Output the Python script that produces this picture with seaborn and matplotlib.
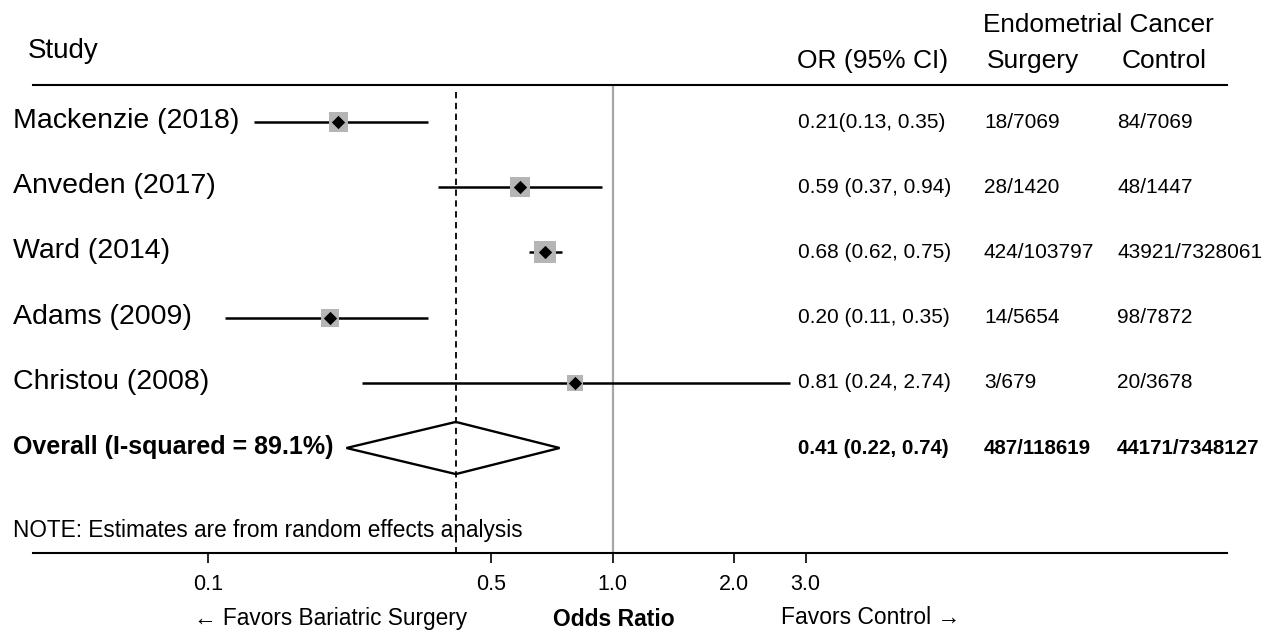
import numpy as np
import pandas as pd
import matplotlib
matplotlib.use("Agg")
import matplotlib.pyplot as plt
import seaborn as sns
from matplotlib.ticker import NullLocator

# study level data
studies = ["Mackenzie (2018)", "Anveden (2017)", "Ward (2014)", "Adams (2009)", "Christou (2008)"]
or_est = [0.21, 0.59, 0.68, 0.20, 0.81]
ci_low = [0.13, 0.37, 0.62, 0.11, 0.24]
ci_high = [0.35, 0.94, 0.75, 0.35, 2.74]
weights = [19.8, 21.9, 26.5, 17.8, 14.0]
or_labels = ["0.21(0.13, 0.35)", "0.59 (0.37, 0.94)", "0.68 (0.62, 0.75)",
             "0.20 (0.11, 0.35)", "0.81 (0.24, 2.74)"]
surgery = ["18/7069", "28/1420", "424/103797", "14/5654", "3/679"]
control = ["84/7069", "48/1447", "43921/7328061", "98/7872", "20/3678"]

# pooled estimate
overall_label = "Overall (I-squared = 89.1%)"
overall_or = 0.41
overall_low = 0.22
overall_high = 0.74
overall_text = "0.41 (0.22, 0.74)"
overall_surgery = "487/118619"
overall_control = "44171/7348127"

tick_vals = [0.1, 0.5, 1.0, 2.0, 3.0]
tick_labels = ["0.1", "0.5", "1.0", "2.0", "3.0"]

sns.set_style("white")
plt.rcParams['font.family'] = ['Liberation Sans', 'DejaVu Sans']
plt.rcParams['text.color'] = 'black'
plt.rcParams['xtick.color'] = 'black'
plt.rcParams['xtick.labelcolor'] = 'black'

W, H = 1267, 633
fig = plt.figure(figsize=(W / 100, H / 100), dpi=100)
ax = fig.add_axes([33 / W, 1 - 553 / H, (1227 - 33) / W, (553 - 85) / H])

row0, row_step = 122, 65.2  # pixel row layout


def row_px(i):
    return row0 + row_step * i


df = pd.DataFrame({"study": studies, "or": or_est, "lo": ci_low, "hi": ci_high,
                   "weight": weights, "row": np.arange(len(studies))})

# confidence intervals
ax.hlines(df["row"], df["lo"], df["hi"], color="black", lw=1.8, zorder=2)
# weight boxes
sns.scatterplot(data=df, x="or", y="row", size="weight", sizes=(133, 251), marker="s",
                color="#b5b5b5", linewidth=0, legend=False, ax=ax, zorder=3)
# point estimates
sns.scatterplot(data=df, x="or", y="row", marker="D", s=46, color="black",
                linewidth=0, legend=False, ax=ax, zorder=4)

# overall diamond
r = len(studies)
ax.fill([overall_low, overall_or, overall_high, overall_or], [r, r - 0.4, r, r + 0.4],
        fill=False, edgecolor="black", lw=1.7, zorder=3)

# reference lines
ax.axvline(1.0, color="#a6a6a6", lw=1.6, zorder=1)
y_lo = (553 - row0) / row_step
y_hi = (85 - row0) / row_step
ax.vlines(overall_or, (92 - row0) / row_step, y_lo, color="black", lw=1.3,
          linestyles=(0, (3.5, 2.5)), zorder=2)

ax.set_xscale("log")
ax.set_xlim(10 ** (-1 - (208 - 33) / 405), 10 ** ((1227 - 612) / 405))
ax.set_ylim(y_lo, y_hi)
ax.set_xticks(tick_vals)
ax.set_xticklabels(tick_labels)
ax.xaxis.set_minor_locator(NullLocator())
ax.set_yticks([])
ax.set_xlabel("")
ax.set_ylabel("")
ax.tick_params(axis="x", direction="out", length=7, width=1.2, pad=8,
               labelsize=15.5, color="black", bottom=True, top=False)
for side in ["left", "right"]:
    ax.spines[side].set_visible(False)
for side in ["top", "bottom"]:
    ax.spines[side].set_color("black")
    ax.spines[side].set_linewidth(1.5)
ax.patch.set_alpha(0)


def put(x, y, s, **kw):
    fig.text(x / W, 1 - y / H, s, va="center", color="black", **kw)


# header
put(28, 51, "Study", fontsize=20)
put(983, 25, "Endometrial Cancer", fontsize=18.8)
put(797, 61, "OR (95% CI)", fontsize=19)
put(987, 61, "Surgery", fontsize=19)
put(1122, 61, "Control", fontsize=19)

# rows
for i in range(len(studies)):
    y = row_px(i)
    put(13, y - 1, studies[i], fontsize=20.5)
    put(798, y, or_labels[i], fontsize=15)
    put(984, y, surgery[i], fontsize=15)
    put(1117, y, control[i], fontsize=15)

y = row_px(r)
put(13, y - 1, overall_label, fontsize=18, fontweight="bold")
put(798, y, overall_text, fontsize=14.8, fontweight="bold")
put(984, y, overall_surgery, fontsize=14.8, fontweight="bold")
put(1117, y, overall_control, fontsize=14.8, fontweight="bold")

put(13, 530, "NOTE: Estimates are from random effects analysis", fontsize=16.3)

# bottom labels
put(194, 618, "\u2190 Favors Bariatric Surgery", fontsize=16.3)
put(614, 620, "Odds Ratio", fontsize=16.5, fontweight="bold", ha="center")
put(781, 618, "Favors Control \u2192", fontsize=16.5)

fig.savefig("out.png", dpi=100)
